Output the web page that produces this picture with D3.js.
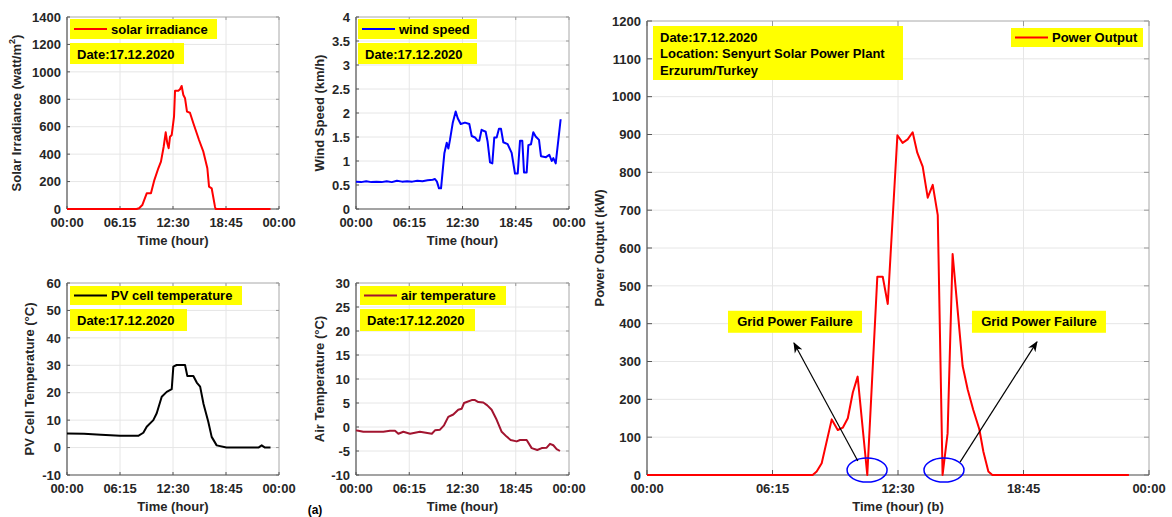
<!DOCTYPE html>
<html>
<head>
<meta charset="utf-8">
<script src="https://cdn.jsdelivr.net/npm/d3@7"></script>
<style>
  body { margin: 0; background: #fff; }
  svg text { font-family: "Liberation Sans", Arial, sans-serif; font-weight: bold; }
</style>
</head>
<body>
<svg id="fig" width="1172" height="517"></svg>
<script>
// ---- data ----
const xTickHours = [0, 6.25, 12.5, 18.75, 25];
const xTickLabels = ["00:00", "06:15", "12:30", "18:45", "00:00"];
const xTickLabelsSolar = ["00:00", "06.15", "12:30", "18:45", "00:00"];

const solarHours = [0, 8.2, 8.5, 8.88, 9.4, 9.9, 10.3, 10.77, 11.08, 11.4, 11.64, 11.83, 11.99, 12.15, 12.35, 12.62, 12.74, 13.13, 13.33, 13.52, 13.72, 13.92, 14.15, 14.5, 14.9, 15.57, 16.08, 16.55, 16.75, 17.06, 17.45, 17.53, 24];
const solarValues = [0, 0, 6, 29, 114, 114, 211, 297, 345, 454, 559, 479, 443, 527, 540, 673, 862, 862, 873, 897, 831, 807, 710, 702, 625, 503, 418, 297, 163, 151, 17, 0, 0];

const windHours = [0, 0.6, 1.2, 1.8, 2.4, 3, 3.6, 4.2, 4.8, 5.4, 6, 6.6, 7.2, 7.8, 8.4, 9.0, 9.27, 9.5, 9.74, 9.98, 10.37, 10.65, 10.84, 11.03, 11.35, 11.7, 11.94, 12.29, 12.79, 13.3, 13.58, 13.97, 14.28, 14.47, 14.74, 15.22, 15.45, 15.73, 16.0, 16.23, 16.51, 16.78, 17.02, 17.29, 17.8, 18.27, 18.66, 18.98, 19.25, 19.52, 19.72, 20.03, 20.23, 20.54, 20.81, 21.09, 21.48, 21.71, 22.3, 22.69, 22.97, 23.16, 23.44, 23.75, 24.02];
const windValues = [0.57, 0.56, 0.58, 0.56, 0.57, 0.56, 0.58, 0.56, 0.59, 0.57, 0.58, 0.57, 0.59, 0.58, 0.6, 0.61, 0.625, 0.57, 0.43, 0.43, 1.16, 1.38, 1.26, 1.44, 1.79, 2.03, 1.89, 1.77, 1.8, 1.77, 1.52, 1.49, 1.42, 1.42, 1.65, 1.61, 1.4, 0.97, 0.95, 1.49, 1.49, 1.67, 1.67, 1.39, 1.35, 1.17, 0.74, 0.74, 1.42, 1.42, 0.76, 0.76, 1.33, 1.35, 1.6, 1.51, 1.44, 1.1, 1.08, 1.13, 1.0, 1.06, 0.95, 1.44, 1.87];

const pvHours = [0, 2, 4, 6.25, 8.4, 9.0, 9.4, 10.18, 10.58, 11.17, 11.76, 12.35, 12.54, 12.93, 13.92, 14.19, 14.9, 15.3, 15.7, 16.1, 16.66, 17.06, 17.65, 18.8, 22.57, 22.96, 23.35, 24.0];
const pvValues = [5.1, 5.0, 4.7, 4.3, 4.3, 5.4, 7.6, 10, 12.5, 18.5, 20.3, 21.3, 29.5, 30.1, 30.1, 26.1, 26.1, 23.7, 22.2, 15.9, 9.4, 3.9, 0.8, 0, 0, 0.8, 0, 0];

const airHours = [0, 0.27, 0.86, 3.2, 3.99, 4.58, 4.97, 5.56, 6.34, 7.5, 8.9, 9.27, 9.86, 10.33, 10.83, 11.42, 12.0, 12.4, 12.68, 12.99, 13.58, 13.97, 14.36, 14.94, 15.41, 15.92, 16.51, 17.1, 17.68, 18.15, 18.86, 19.25, 20.03, 20.62, 21.28, 21.8, 22.38, 22.77, 23.16, 23.55, 23.94];
const airValues = [-0.7, -0.8, -1.0, -1.0, -0.8, -0.8, -1.4, -1.0, -1.4, -1.0, -1.4, -0.7, -0.55, 0.35, 2.1, 2.6, 3.6, 3.8, 5.0, 5.2, 5.6, 5.6, 5.2, 5.1, 4.5, 3.6, 1.5, -1.0, -2.0, -2.7, -3.0, -2.7, -2.7, -4.4, -4.8, -4.4, -4.3, -3.5, -3.8, -4.6, -5.0];

const powerHours = [0, 8.25, 8.45, 8.7, 9.2, 9.5, 9.75, 10.0, 10.25, 10.49, 10.97, 11.47, 11.74, 11.99, 12.47, 12.73, 12.98, 13.23, 13.46, 13.73, 13.98, 14.23, 14.48, 14.72, 14.97, 15.22, 15.72, 15.97, 16.25, 16.55, 16.75, 17.0, 17.2, 24.0];
const powerValues = [0, 0, 9, 31, 147, 119, 125, 150, 218, 260, 0, 524, 524, 452, 898, 878, 887, 906, 852, 815, 733, 767, 687, 0, 110, 584, 288, 226, 172, 121, 62, 9, 0, 0];

// grid failure annotations (hour, kW)
const failureCenters = [[10.96, 13], [14.79, 13]];
const arrowTails = [[10.5, 37], [15.59, 34]];
const arrowHeads = [[7.32, 349], [19.42, 352]];
const failureLabelPos = [[7.37, 405], [19.52, 405]];

const svg = d3.select("#fig");
const defs = svg.append("defs");
defs.append("marker").attr("id", "arrowhead")
  .attr("viewBox", "0 0 10 10").attr("refX", 9).attr("refY", 5)
  .attr("markerWidth", 9).attr("markerHeight", 9).attr("orient", "auto")
  .append("path").attr("d", "M0,1 L10,5 L0,9 L3,5 Z").attr("fill", "#000");

function drawPanel(o) {
  const g = svg.append("g");
  const x = d3.scaleLinear().domain([0, 25]).range([o.x0, o.x0 + o.w]);
  const y = d3.scaleLinear().domain(o.yDomain).range([o.y0 + o.h, o.y0]);
  const tl = o.tickLen || 3;

  // grid
  g.selectAll(".gy").data(o.yTicks).join("line")
    .attr("x1", o.x0).attr("x2", o.x0 + o.w)
    .attr("y1", d => y(d)).attr("y2", d => y(d))
    .attr("stroke", "#e6e6e6").attr("stroke-width", 1);
  g.selectAll(".gx").data(xTickHours).join("line")
    .attr("x1", d => x(d)).attr("x2", d => x(d))
    .attr("y1", o.y0).attr("y2", o.y0 + o.h)
    .attr("stroke", "#e6e6e6").attr("stroke-width", 1);

  // box
  g.append("line").attr("x1", o.x0).attr("x2", o.x0 + o.w).attr("y1", o.y0).attr("y2", o.y0).attr("stroke", "#b4b4b4");
  g.append("line").attr("x1", o.x0 + o.w).attr("x2", o.x0 + o.w).attr("y1", o.y0).attr("y2", o.y0 + o.h).attr("stroke", "#b4b4b4");
  // ticks inward, all sides
  g.selectAll(".tl").data(o.yTicks).join("line")
    .attr("x1", o.x0).attr("x2", o.x0 + tl).attr("y1", d => y(d)).attr("y2", d => y(d)).attr("stroke", "#555");
  g.selectAll(".tr").data(o.yTicks).join("line")
    .attr("x1", o.x0 + o.w).attr("x2", o.x0 + o.w - tl).attr("y1", d => y(d)).attr("y2", d => y(d)).attr("stroke", "#999");
  g.selectAll(".tb").data(xTickHours).join("line")
    .attr("x1", d => x(d)).attr("x2", d => x(d)).attr("y1", o.y0 + o.h).attr("y2", o.y0 + o.h - tl).attr("stroke", "#555");
  g.selectAll(".tt").data(xTickHours).join("line")
    .attr("x1", d => x(d)).attr("x2", d => x(d)).attr("y1", o.y0).attr("y2", o.y0 + tl).attr("stroke", "#999");
  g.append("line").attr("x1", o.x0).attr("x2", o.x0).attr("y1", o.y0).attr("y2", o.y0 + o.h).attr("stroke", "#555").attr("stroke-width", 1.2);
  g.append("line").attr("x1", o.x0).attr("x2", o.x0 + o.w).attr("y1", o.y0 + o.h).attr("y2", o.y0 + o.h).attr("stroke", "#555").attr("stroke-width", 1.2);

  // tick labels
  g.selectAll(".yl").data(o.yTicks).join("text")
    .attr("x", o.x0 - 6).attr("y", d => y(d)).attr("dy", "0.36em")
    .attr("text-anchor", "end").attr("font-size", 13).attr("fill", "#262626")
    .text(d => d);
  g.selectAll(".xl").data(xTickHours).join("text")
    .attr("x", d => x(d)).attr("y", o.y0 + o.h + 18)
    .attr("text-anchor", "middle").attr("font-size", 13).attr("fill", "#262626")
    .text((d, i) => o.xLabels[i]);

  // axis titles
  g.append("text").attr("x", o.x0 + o.w / 2).attr("y", o.y0 + o.h + 36)
    .attr("text-anchor", "middle").attr("font-size", 13).attr("fill", "#262626")
    .text(o.xTitle);
  const yt = g.append("text")
    .attr("transform", `translate(${o.yTitleX},${o.y0 + o.h / 2}) rotate(-90)`)
    .attr("text-anchor", "middle").attr("font-size", 13).attr("fill", "#262626");
  if (o.yTitleSup) {
    yt.append("tspan").text(o.yTitle);
    yt.append("tspan").attr("font-size", 9).attr("dy", -6).text(o.yTitleSup);
    yt.append("tspan").attr("dy", 6).text(")");
  } else {
    yt.text(o.yTitle);
  }

  // series
  const pts = o.hours.map((h, i) => [h, o.values[i]]);
  g.append("path").datum(pts)
    .attr("fill", "none").attr("stroke", o.color).attr("stroke-width", o.lineWidth || 2)
    .attr("stroke-linejoin", "round")
    .attr("d", d3.line().x(d => x(d[0])).y(d => y(d[1])));

  return { g, x, y };
}

function legendBox(g, bx, by, bw, bh, color, label) {
  g.append("rect").attr("x", bx).attr("y", by).attr("width", bw).attr("height", bh).attr("fill", "#ffff00");
  g.append("line").attr("x1", bx + 4).attr("x2", bx + 37).attr("y1", by + bh / 2).attr("y2", by + bh / 2)
    .attr("stroke", color).attr("stroke-width", 2);
  g.append("text").attr("x", bx + 41).attr("y", by + bh / 2).attr("dy", "0.36em")
    .attr("font-size", 13).attr("fill", "#000").text(label);
}
function textBox(g, bx, by, bw, bh, lines, lineH) {
  g.append("rect").attr("x", bx).attr("y", by).attr("width", bw).attr("height", bh).attr("fill", "#ffff00");
  lines.forEach((t, i) => {
    g.append("text").attr("x", bx + 7).attr("y", by + 11 + i * lineH).attr("dy", "0.36em")
      .attr("font-size", 13).attr("fill", "#000").text(t);
  });
}

// (a) small panels
const p1 = drawPanel({ x0: 67, y0: 17, w: 212, h: 192, yDomain: [0, 1400], yTicks: d3.range(0, 1401, 200),
  xLabels: xTickLabelsSolar, xTitle: "Time (hour)", yTitle: "Solar Irradiance (watt/m", yTitleSup: "2", yTitleX: 21,
  hours: solarHours, values: solarValues, color: "#ff0000" });
legendBox(p1.g, 70, 19, 147, 20, "#ff0000", "solar irradiance");
textBox(p1.g, 70, 43, 114, 21, ["Date:17.12.2020"], 16);

const p2 = drawPanel({ x0: 356, y0: 17, w: 213, h: 192, yDomain: [0, 4], yTicks: d3.range(0, 4.01, 0.5),
  xLabels: xTickLabels, xTitle: "Time (hour)", yTitle: "Wind Speed (km/h)", yTitleX: 324,
  hours: windHours, values: windValues, color: "#0000ff" });
legendBox(p2.g, 358, 19, 119, 20, "#0000ff", "wind speed");
textBox(p2.g, 358, 43, 119, 21, ["Date:17.12.2020"], 16);

const p3 = drawPanel({ x0: 67, y0: 283, w: 212, h: 192, yDomain: [-10, 60], yTicks: d3.range(-10, 61, 10),
  xLabels: xTickLabels, xTitle: "Time (hour)", yTitle: "PV Cell Temperature (°C)", yTitleX: 34,
  hours: pvHours, values: pvValues, color: "#000000" });
legendBox(p3.g, 70, 286, 172, 19, "#000000", "PV cell temperature");
textBox(p3.g, 70, 309, 117, 22, ["Date:17.12.2020"], 16);

const p4 = drawPanel({ x0: 356, y0: 283, w: 213, h: 192, yDomain: [-10, 30], yTicks: d3.range(-10, 31, 5),
  xLabels: xTickLabels, xTitle: "Time (hour)", yTitle: "Air Temperature (°C)", yTitleX: 324,
  hours: airHours, values: airValues, color: "#a2142f" });
legendBox(p4.g, 360, 286, 146, 19, "#a2142f", "air temperature");
textBox(p4.g, 360, 309, 115, 22, ["Date:17.12.2020"], 16);

svg.append("text").attr("x", 315).attr("y", 514).attr("text-anchor", "middle")
  .attr("font-size", 12).attr("fill", "#000").text("(a)");

// (b) power output panel
const p5 = drawPanel({ x0: 647, y0: 21, w: 502, h: 454, yDomain: [0, 1200], yTicks: d3.range(0, 1201, 100),
  xLabels: xTickLabels, xTitle: "Time (hour) (b)", yTitle: "Power Output (kW)", yTitleX: 604, tickLen: 5,
  hours: powerHours, values: powerValues, color: "#ff0000" });
textBox(p5.g, 653, 26, 250, 54, ["Date:17.12.2020", "Location: Senyurt Solar Power Plant", "Erzurum/Turkey"], 16.5);
legendBox(p5.g, 1011, 28, 132, 19, "#ff0000", "Power Output");

const ann = p5.g.append("g");
ann.selectAll("ellipse").data(failureCenters).join("ellipse")
  .attr("cx", d => p5.x(d[0])).attr("cy", d => p5.y(d[1]))
  .attr("rx", 20).attr("ry", 12)
  .attr("fill", "none").attr("stroke", "#0000ff").attr("stroke-width", 1.5);
ann.selectAll(".arrow").data(arrowTails).join("line")
  .attr("x1", d => p5.x(d[0])).attr("y1", d => p5.y(d[1]))
  .attr("x2", (d, i) => p5.x(arrowHeads[i][0])).attr("y2", (d, i) => p5.y(arrowHeads[i][1]))
  .attr("stroke", "#000").attr("stroke-width", 1.2).attr("marker-end", "url(#arrowhead)");
failureLabelPos.forEach(d => {
  const cx = p5.x(d[0]), cy = p5.y(d[1]);
  ann.append("rect").attr("x", cx - 67).attr("y", cy - 11).attr("width", 134).attr("height", 22).attr("fill", "#ffff00");
  ann.append("text").attr("x", cx).attr("y", cy).attr("dy", "0.36em").attr("text-anchor", "middle")
    .attr("font-size", 13).attr("fill", "#000").text("Grid Power Failure");
});
</script>
</body>
</html>
